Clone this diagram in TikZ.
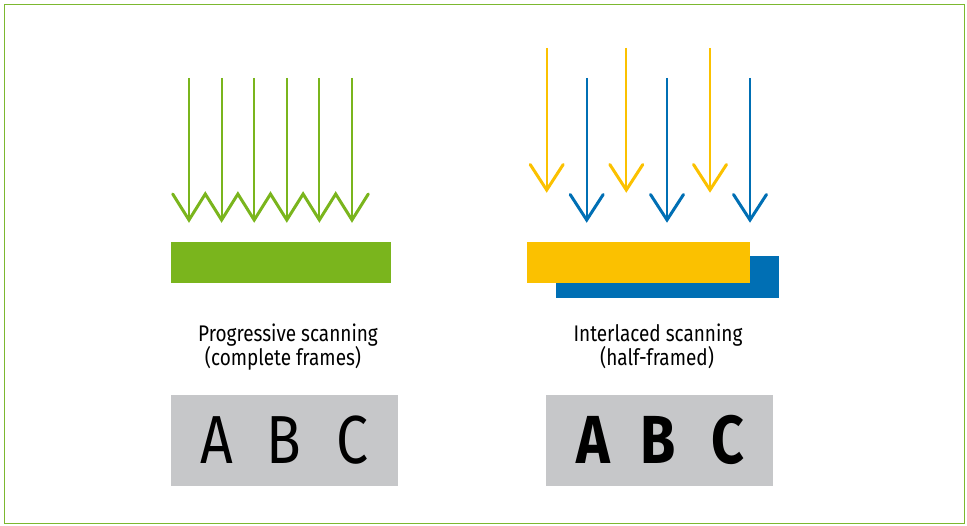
\documentclass[tikz,border=0pt]{standalone}
\usepackage{fontspec}
\setmainfont[FakeStretch=0.84]{Fira Sans}
\definecolor{pgreen}{RGB}{122,181,29}
\definecolor{fgreen}{RGB}{124,184,47}
\definecolor{iyellow}{RGB}{251,193,0}
\definecolor{iblue}{RGB}{0,111,180}
\definecolor{lgray}{RGB}{198,199,201}
\begin{document}
\begin{tikzpicture}[x=1pt,y=-1pt,
  shaft/.style={line width=2pt},
  chev/.style={line width=3pt,line cap=round,line join=miter},
  captext/.style={font=\fontsize{22.6}{26}\selectfont,anchor=base,inner sep=0pt},
  letter/.style={font=\fontsize{68}{68}\selectfont,anchor=base,inner sep=0pt}]
\useasboundingbox (0,0) rectangle (967,526);
\draw[fgreen,line width=1.6pt] (4.5,4.5) rectangle (964.5,523.5);
% progressive arrows
\foreach \x in {189,221.6,254.2,286.8,319.4,352}{
  \draw[pgreen,shaft] (\x,78) -- (\x,218);
}
\draw[pgreen,chev] (172.7,194) -- (189,220) -- (205.3,194) -- (221.6,220) -- (237.9,194) -- (254.2,220) -- (270.5,194) -- (286.8,220) -- (303.1,194) -- (319.4,220) -- (335.7,194) -- (352,220) -- (368.3,194);
\fill[pgreen] (171,242) rectangle (391,283.5);
% interlaced arrows
\foreach \x in {546.7,626.3,710}{
  \draw[iyellow,shaft] (\x,48) -- (\x,188);
  \draw[iyellow,chev] (\x-16.5,164.5) -- (\x,190) -- (\x+16.5,164.5);
}
\foreach \x in {586.7,667,750}{
  \draw[iblue,shaft] (\x,78) -- (\x,218);
  \draw[iblue,chev] (\x-16.5,194.5) -- (\x,220) -- (\x+16.5,194.5);
}
\fill[iblue] (556,256) rectangle (779,298);
\fill[iyellow] (526.7,241.7) rectangle (750,283.3);
% captions
\node[captext] (p1) at (288,342) {Progressive scanning};
\node[captext] (p2) at (283,366) {(complete frames)};
\node[captext] (i1) at (658,342) {Interlaced scanning};
\node[captext] (i2) at (657,366) {(half-framed)};
% boxes
\fill[lgray] (171,395) rectangle (398,486);
\fill[lgray] (546,395) rectangle (772.5,486);
\node[letter] (la) at (217,464) {A};
\node[letter] (lb) at (284,464) {B};
\node[letter] (lc) at (352,464) {C};
\node[letter,font=\fontsize{68}{68}\selectfont\bfseries] (ra) at (593,464) {A};
\node[letter,font=\fontsize{68}{68}\selectfont\bfseries] (rb) at (658,464) {B};
\node[letter,font=\fontsize{68}{68}\selectfont\bfseries] (rc) at (728,464) {C};
\end{tikzpicture}
\end{document}
